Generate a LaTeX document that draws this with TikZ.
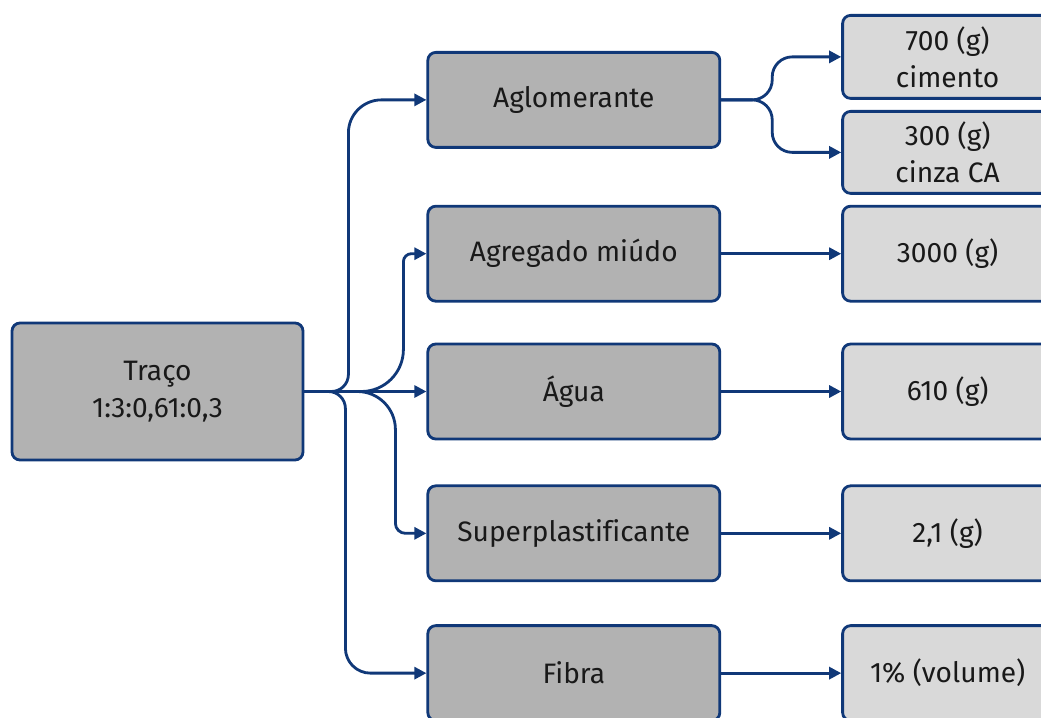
\documentclass[tikz,border=0pt]{standalone}
\usepackage{fontspec}
\setmainfont{Fira Sans}[Ligatures=CommonOff]
\usetikzlibrary{positioning,arrows.meta}
\definecolor{navy}{RGB}{16,56,120}
\tikzset{
link/.style={draw=navy, line width=1.6pt, -{Triangle[length=0.24cm,width=0.24cm]}},
box/.style={draw=navy, line width=1.6pt, rounded corners=0.16cm, fill=gray!60,
  minimum width=5.84cm, minimum height=1.9cm, align=center, text=black!90,
  font=\fontsize{16}{21}\selectfont},
valbox/.style={box, fill=gray!30, minimum width=4.2cm},
node distance=2.44cm,
}

\begin{document}
\begin{tikzpicture}
    \useasboundingbox (0,0) rectangle (20.82,-14.34);
    \clip (0,0) rectangle (20.82,-14.34);

    \node[box, minimum width=5.82cm, minimum height=2.74cm] (Traco) at (3.15,-7.83) {Traço\\1:3:0,61:0,3};

    %middle
    \node[box, right=of Traco] (Agua) {Água};
    \node[box, above=0.8cm of Agua] (Agr) {Agregado miúdo};
    \node[box, above=1.12cm of Agr] (Agl) {Aglomerante};
    \node[box, below=0.88cm of Agua] (Sup) {Superplastificante};
    \node[box, below=0.84cm of Sup] (Fib) {Fibra};

    %right
    \node[valbox, minimum height=1.66cm, right=2.4cm of Agl, yshift=0.86cm] (cim) {700 (g)\\cimento};
    \node[valbox, minimum height=1.64cm, right=2.4cm of Agl, yshift=-1.05cm] (cinza) {300 (g)\\cinza CA};
    \node[valbox, right=2.4cm of Agr] (v3000) {3000 (g)};
    \node[valbox, right=2.4cm of Agua] (v610) {610 (g)};
    \node[valbox, right=2.4cm of Sup] (v21) {2,1 (g)};
    \node[valbox, right=2.4cm of Fib] (v1) {1\% (volume)};

    \coordinate (pAgl) at ([xshift=-1.56cm]Agl.west);
    \coordinate (pAgr) at ([xshift=-0.46cm]Agr.west);
    \coordinate (pSup) at ([xshift=-0.62cm]Sup.west);
    \coordinate (pFib) at ([xshift=-1.62cm]Fib.west);

    \draw[link] (Traco) -- (Agua);
    \draw[link, rounded corners=0.34cm] (Traco.east) -- (Traco.east -| pAgl) [rounded corners=0.66cm] -- (pAgl) -- (Agl.west);
    \draw[link, rounded corners=0.84cm] (Traco.east) -- (Traco.east -| pAgr) [rounded corners=0.16cm] -- (pAgr) -- (Agr.west);
    \draw[link, rounded corners=0.76cm] (Traco.east) -- (Traco.east -| pSup) [rounded corners=0.2cm] -- (pSup) -- (Sup.west);
    \draw[link, rounded corners=0.34cm] (Traco.east) -- (Traco.east -| pFib) [rounded corners=0.5cm] -- (pFib) -- (Fib.west);

    \draw[link, rounded corners=0.4cm] (Agl.east) -| ([xshift=-1.38cm]cim.west) -- (cim.west);
    \draw[link, rounded corners=0.4cm] (Agl.east) -| ([xshift=-1.38cm]cinza.west) -- (cinza.west);
    \draw[link] (Agr) -- (v3000);
    \draw[link] (Agua) -- (v610);
    \draw[link] (Sup) -- (v21);
    \draw[link] (Fib) -- (v1);

\end{tikzpicture}
\end{document}
